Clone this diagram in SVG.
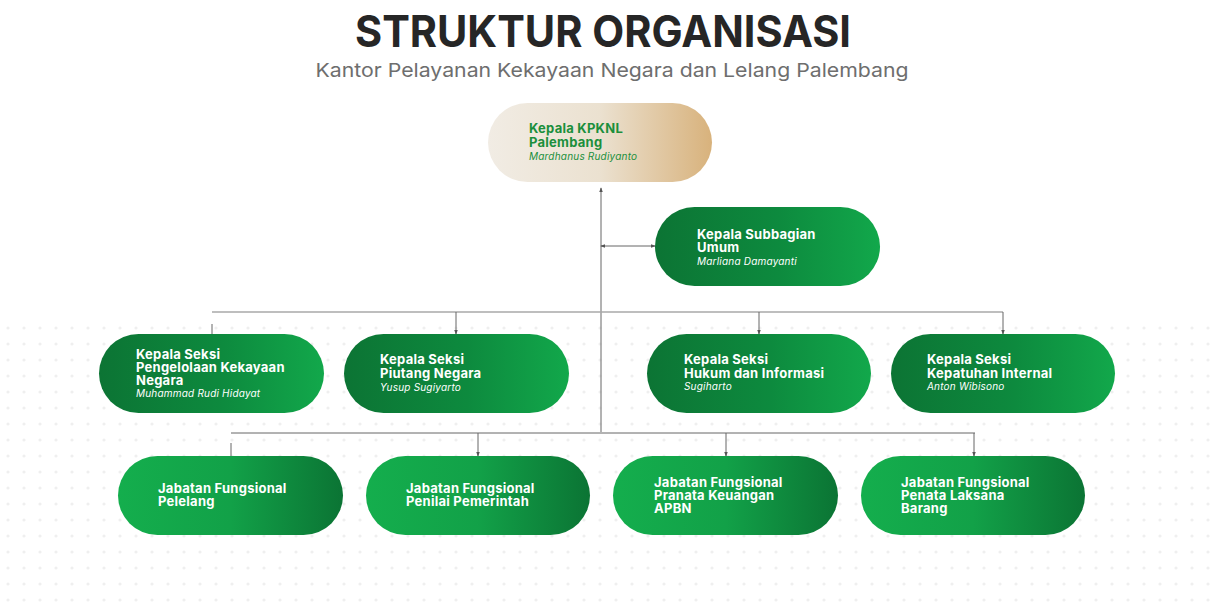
<svg xmlns="http://www.w3.org/2000/svg" width="1212" height="610" viewBox="0 0 1212 610">
<defs>
<linearGradient id="gBeige" x1="0" y1="0" x2="1" y2="0">
<stop offset="0" stop-color="#f1ece4"/><stop offset="0.5" stop-color="#ebe1d0"/><stop offset="1" stop-color="#d8b27c"/>
</linearGradient>
<linearGradient id="gDark" x1="0" y1="0" x2="1" y2="0">
<stop offset="0" stop-color="#0c7434"/><stop offset="0.55" stop-color="#0d8a3e"/><stop offset="1" stop-color="#12a84b"/>
</linearGradient>
<linearGradient id="gLight" x1="0" y1="0" x2="1" y2="0">
<stop offset="0" stop-color="#14ae4d"/><stop offset="0.5" stop-color="#12a148"/><stop offset="1" stop-color="#0b7434"/>
</linearGradient>
<pattern id="dots" width="16" height="16" patternUnits="userSpaceOnUse">
<circle cx="8" cy="8" r="1.6" fill="#efefef"/>
</pattern>
<marker id="ah" viewBox="0 0 6 6" refX="5" refY="3" markerWidth="5" markerHeight="5" orient="auto-start-reverse">
<path d="M0,0.8 L6,3 L0,5.2 z" fill="#555"/>
</marker>
<style>
.t1{font-family:Inter,"Noto Sans",sans-serif;font-weight:700;font-size:13px;letter-spacing:0.25px;fill:#ffffff}
.t2{font-family:Inter,"Noto Sans",sans-serif;font-style:italic;font-size:10px;letter-spacing:0.2px;fill:#ffffff}
.g1{fill:#1b8f3c}
.ln{stroke:#666;stroke-width:1;fill:none}
</style>
</defs>
<rect width="1212" height="610" fill="#ffffff"/>
<rect x="0" y="320" width="1212" height="290" fill="url(#dots)"/>
<text x="603" y="47" text-anchor="middle" font-family="Inter,'Noto Sans',sans-serif" font-weight="700" font-size="44" fill="#262626" textLength="496" lengthAdjust="spacingAndGlyphs">STRUKTUR ORGANISASI</text>
<text x="612" y="77" text-anchor="middle" font-family="Inter,'Noto Sans',sans-serif" font-size="19" fill="#6e6e6e" textLength="593" lengthAdjust="spacingAndGlyphs">Kantor Pelayanan Kekayaan Negara dan Lelang Palembang</text>

<g id="connectors">
<line class="ln" x1="601" y1="432" x2="601" y2="188" marker-end="url(#ah)"/>
<line class="ln" x1="601" y1="246" x2="655" y2="246" marker-start="url(#ah)" marker-end="url(#ah)"/>
<line x1="212" y1="312" x2="1003" y2="312" stroke="#a8a8a8" stroke-width="1.5"/>
<line class="ln" x1="212" y1="324" x2="212" y2="347" marker-end="url(#ah)"/>
<line class="ln" x1="456" y1="312" x2="456" y2="334" marker-end="url(#ah)"/>
<line class="ln" x1="759" y1="312" x2="759" y2="334" marker-end="url(#ah)"/>
<line class="ln" x1="1003" y1="312" x2="1003" y2="334" marker-end="url(#ah)"/>
<line class="ln" x1="231" y1="433" x2="975" y2="433"/>
<line class="ln" x1="231" y1="443" x2="231" y2="466" marker-end="url(#ah)"/>
<line class="ln" x1="478" y1="433" x2="478" y2="456" marker-end="url(#ah)"/>
<line class="ln" x1="726" y1="433" x2="726" y2="456" marker-end="url(#ah)"/>
<line class="ln" x1="974" y1="433" x2="974" y2="456" marker-end="url(#ah)"/>
</g>

<g id="n-kepala">
<rect x="488" y="103" width="224" height="79" rx="39.5" fill="url(#gBeige)"/>
<text class="t1 g1" x="529" y="133">Kepala KPKNL</text>
<text class="t1 g1" x="529" y="147">Palembang</text>
<text class="t2 g1" x="529" y="160">Mardhanus Rudiyanto</text>
</g>
<g id="n-subbagian">
<rect x="655" y="207" width="225" height="79" rx="39.5" fill="url(#gDark)"/>
<text class="t1" x="697" y="239">Kepala Subbagian</text>
<text class="t1" x="697" y="252">Umum</text>
<text class="t2" x="697" y="265">Marliana Damayanti</text>
</g>
<g id="n-pkn">
<rect x="99" y="334" width="225" height="79" rx="39.5" fill="url(#gDark)"/>
<text class="t1" x="136" y="359">Kepala Seksi</text>
<text class="t1" x="136" y="372">Pengelolaan Kekayaan</text>
<text class="t1" x="136" y="385">Negara</text>
<text class="t2" x="136" y="397">Muhammad Rudi Hidayat</text>
</g>
<g id="n-piutang">
<rect x="344" y="334" width="225" height="79" rx="39.5" fill="url(#gDark)"/>
<text class="t1" x="380" y="364">Kepala Seksi</text>
<text class="t1" x="380" y="378">Piutang Negara</text>
<text class="t2" x="380" y="391">Yusup Sugiyarto</text>
</g>
<g id="n-hukum">
<rect x="647" y="334" width="224" height="79" rx="39.5" fill="url(#gDark)"/>
<text class="t1" x="684" y="364">Kepala Seksi</text>
<text class="t1" x="684" y="378">Hukum dan Informasi</text>
<text class="t2" x="684" y="390">Sugiharto</text>
</g>
<g id="n-kepatuhan">
<rect x="891" y="334" width="224" height="79" rx="39.5" fill="url(#gDark)"/>
<text class="t1" x="927" y="364">Kepala Seksi</text>
<text class="t1" x="927" y="378">Kepatuhan Internal</text>
<text class="t2" x="927" y="390">Anton Wibisono</text>
</g>
<g id="n-pelelang">
<rect x="118" y="456" width="225" height="79" rx="39.5" fill="url(#gLight)"/>
<text class="t1" x="158" y="493">Jabatan Fungsional</text>
<text class="t1" x="158" y="506">Pelelang</text>
</g>
<g id="n-penilai">
<rect x="366" y="456" width="224" height="79" rx="39.5" fill="url(#gLight)"/>
<text class="t1" x="406" y="493">Jabatan Fungsional</text>
<text class="t1" x="406" y="506">Penilai Pemerintah</text>
</g>
<g id="n-pranata">
<rect x="613" y="456" width="225" height="79" rx="39.5" fill="url(#gLight)"/>
<text class="t1" x="654" y="487">Jabatan Fungsional</text>
<text class="t1" x="654" y="500">Pranata Keuangan</text>
<text class="t1" x="654" y="513">APBN</text>
</g>
<g id="n-penata">
<rect x="861" y="456" width="224" height="79" rx="39.5" fill="url(#gLight)"/>
<text class="t1" x="901" y="487">Jabatan Fungsional</text>
<text class="t1" x="901" y="500">Penata Laksana</text>
<text class="t1" x="901" y="513">Barang</text>
</g>
</svg>
